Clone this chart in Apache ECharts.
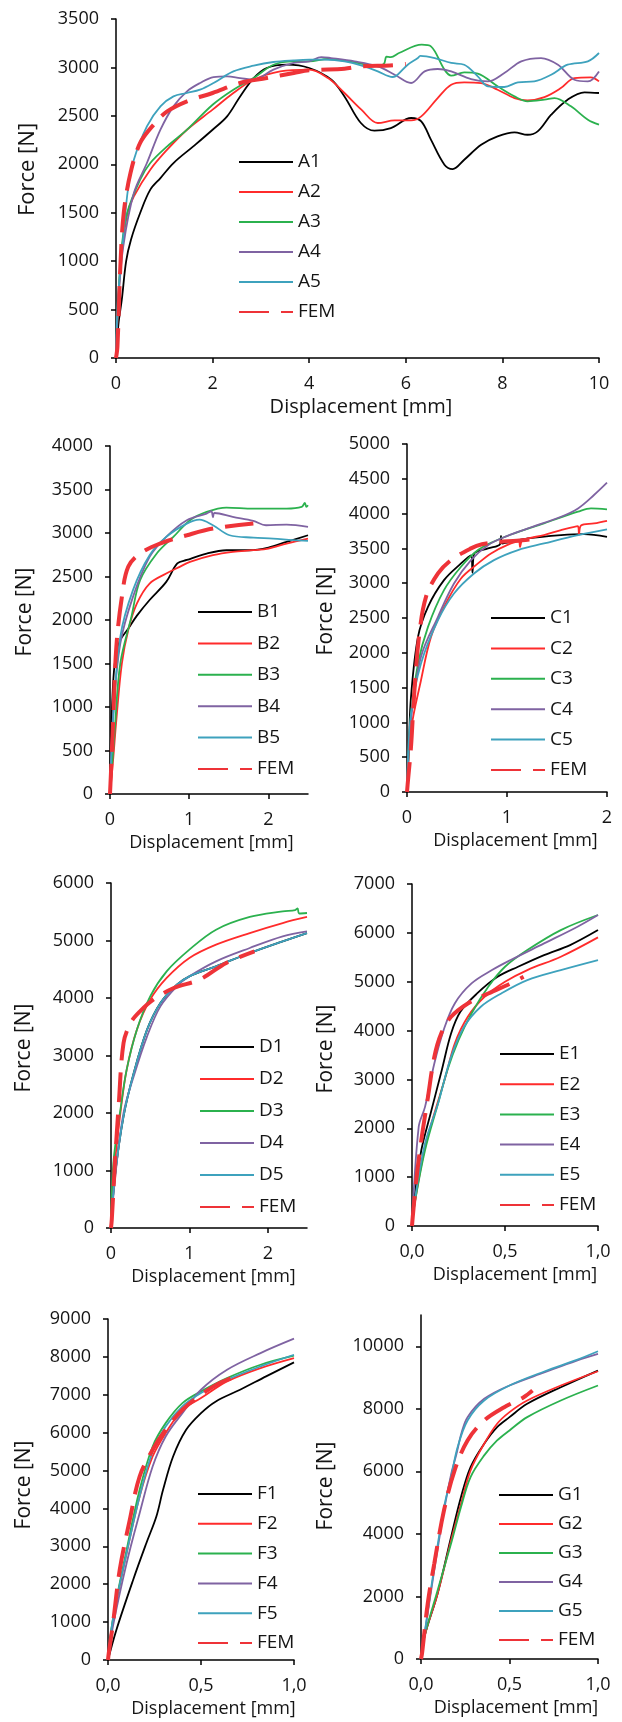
<!DOCTYPE html>
<html>
<head>
<meta charset="utf-8">
<script src="https://cdn.jsdelivr.net/npm/echarts@6/dist/echarts.min.js"></script>
<style>
html,body{margin:0;padding:0;background:#fff;}
#chart{width:622px;height:1722px;}
</style>
</head>
<body>
<div id="chart"></div>
<script>
// ---------- Panel A ----------
const A1 = [[0,0],[0.05,350],[0.12,602],[0.21,1000],[0.31,1222],[0.5,1497],[0.71,1738],[0.92,1858],[1.19,2013],[1.6,2185],[2.0,2357],[2.3,2495],[2.57,2701],[2.85,2890],[3.12,2994],[3.54,3028],[4.0,2994],[4.46,2873],[4.73,2701],[5.07,2426],[5.35,2347],[5.69,2374],[6.11,2478],[6.32,2443],[6.52,2254],[6.8,1996],[6.97,1951],[7.21,2047],[7.56,2202],[7.9,2288],[8.25,2330],[8.52,2305],[8.73,2340],[9.01,2512],[9.35,2667],[9.7,2743],[10,2736]];
const A2 = [[0,0],[0.05,600],[0.12,1100],[0.24,1500],[0.37,1669],[0.71,1944],[1.06,2151],[1.47,2357],[2.0,2564],[2.43,2736],[2.85,2873],[3.4,2959],[4.0,2977],[4.39,2890],[4.73,2736],[5.08,2564],[5.42,2426],[5.77,2453],[6.11,2453],[6.32,2495],[6.66,2684],[6.94,2822],[7.21,2846],[7.56,2839],[7.9,2770],[8.25,2684],[8.52,2660],[8.87,2694],[9.21,2787],[9.49,2890],[9.83,2897],[10,2856]];
const A3 = [[0,0],[0.05,650],[0.12,1150],[0.23,1497],[0.5,1841],[0.71,2013],[1.06,2185],[1.47,2357],[2.0,2615],[2.43,2770],[2.85,2890],[3.26,3028],[3.68,3063],[4.0,3063],[4.39,3087],[4.94,3052],[5.42,3011],[5.55,3040],[5.6,3110],[5.69,3107],[5.86,3149],[6.33,3235],[6.52,3217],[6.8,2977],[6.94,2915],[7.21,2949],[7.49,2935],[7.9,2805],[8.25,2701],[8.52,2650],[8.87,2667],[9.08,2684],[9.42,2598],[9.77,2460],[10,2409]];
const A4 = [[0,0],[0.05,600],[0.15,1150],[0.37,1703],[0.64,2013],[0.92,2357],[1.19,2598],[1.47,2753],[1.74,2839],[2.02,2901],[2.3,2908],[2.57,2890],[2.85,2873],[3.26,2977],[3.68,3046],[4.0,3063],[4.25,3107],[4.45,3097],[4.94,3063],[5.42,3011],[5.77,2925],[6.11,2839],[6.39,2959],[6.66,2984],[6.94,2959],[7.35,2880],[7.7,2856],[8.04,2942],[8.39,3063],[8.8,3097],[9.15,3028],[9.49,2873],[9.77,2856],[10,2959]];
const A5 = [[0,0],[0.04,600],[0.16,1300],[0.25,1750],[0.37,2047],[0.64,2391],[0.92,2598],[1.19,2701],[1.47,2736],[1.74,2770],[2.02,2839],[2.43,2959],[2.85,3018],[3.26,3056],[3.68,3073],[4.0,3080],[4.32,3080],[4.73,3063],[5.14,3011],[5.42,2959],[5.73,2901],[5.83,2925],[6.04,3028],[6.25,3097],[6.3,3120],[6.6,3097],[6.94,3046],[7.21,3028],[7.49,2908],[7.7,2805],[8.04,2798],[8.32,2846],[8.66,2856],[9.01,2925],[9.35,3028],[9.77,3063],[10,3149]];
const FEM_A = [[0,0],[0.03,120],[0.09,946],[0.16,1497],[0.3,1910],[0.5,2220],[0.78,2409],[1.06,2546],[1.47,2650],[2.0,2736],[2.57,2839],[3.12,2890],[3.68,2942],[4.0,2970],[4.73,2987],[5.08,3011],[5.67,3021],[6.0,3035]];

// ---------- Panel B ----------
const B1 = [[0,0],[0.01,600],[0.03,1100],[0.06,1500],[0.12,1750],[0.23,1900],[0.34,2050],[0.5,2230],[0.71,2438],[0.85,2650],[0.97,2690],[1.22,2764],[1.47,2802],[1.76,2802],[2.0,2833],[2.23,2898],[2.5,2974]];
const B2 = [[0,0],[0.04,400],[0.08,850],[0.15,1500],[0.23,1883],[0.34,2190],[0.5,2419],[0.71,2534],[0.88,2611],[1.01,2668],[1.3,2745],[1.55,2783],[1.81,2802],[2.0,2821],[2.23,2878],[2.5,2936]];
const B3 = [[0,0],[0.06,735],[0.13,1500],[0.27,2036],[0.38,2457],[0.59,2764],[0.8,2955],[1.01,3146],[1.22,3242],[1.47,3292],[1.81,3280],[2.23,3280],[2.42,3300],[2.46,3345],[2.48,3300],[2.5,3319]];
const B4 = [[0,0],[0.04,926],[0.13,1730],[0.29,2266],[0.5,2725],[0.71,2955],[0.97,3146],[1.22,3223],[1.28,3250],[1.3,3180],[1.32,3230],[1.55,3185],[1.81,3139],[1.97,3089],[2.23,3097],[2.5,3070]];
const B5 = [[0,0],[0.04,850],[0.13,1807],[0.29,2343],[0.5,2745],[0.71,2955],[0.97,3108],[1.13,3154],[1.3,3089],[1.51,2974],[1.81,2947],[2.06,2936],[2.31,2917],[2.5,2909]];
const FEM_B = [[0,0],[0.01,199],[0.04,850],[0.08,1692],[0.15,2266],[0.23,2611],[0.38,2764],[0.63,2879],[0.97,2974],[1.3,3051],[1.81,3108]];

// ---------- Panel C ----------
const C1 = [[0,0],[0.02,700],[0.04,1366],[0.11,2229],[0.21,2661],[0.37,3044],[0.54,3284],[0.64,3400],[0.655,3150],[0.67,3420],[0.81,3500],[0.93,3560],[0.94,3680],[0.95,3570],[1.21,3643],[1.54,3691],[1.77,3706],[2,3667]];
const C2 = [[0,0],[0.04,887],[0.14,1606],[0.24,2229],[0.37,2661],[0.54,3068],[0.71,3284],[0.84,3428],[1.0,3547],[1.12,3600],[1.13,3520],[1.15,3610],[1.21,3643],[1.37,3691],[1.54,3763],[1.71,3821],[1.72,3700],[1.74,3830],[1.87,3859],[2.0,3897]];
const C3 = [[0,0],[0.04,1127],[0.11,1846],[0.21,2373],[0.37,2900],[0.54,3236],[0.71,3476],[0.87,3600],[1.04,3700],[1.37,3860],[1.71,4027],[1.84,4075],[2.0,4060]];
const C4 = [[0,0],[0.04,1031],[0.14,1942],[0.31,2517],[0.47,2996],[0.64,3332],[0.81,3547],[1.0,3677],[1.21,3787],[1.54,3955],[1.71,4075],[1.87,4267],[2.0,4444]];
const C5 = [[0,0],[0.04,1127],[0.14,1846],[0.31,2469],[0.47,2852],[0.67,3140],[0.87,3332],[1.11,3476],[1.37,3571],[1.71,3691],[2.0,3773]];
const FEM_C = [[0,0],[0.01,168],[0.04,647],[0.07,1366],[0.12,2229],[0.19,2804],[0.31,3140],[0.44,3332],[0.64,3500],[0.75,3560],[0.9,3590],[1.1,3610],[1.3,3640]];

// ---------- Panel D ----------
const D1 = [[0,0],[0.05,900],[0.16,1942],[0.29,2696],[0.46,3449],[0.63,3913],[0.84,4232],[1.0,4377],[1.34,4551],[1.77,4783],[2.19,4986],[2.5,5130]];
const D2 = [[0,0],[0.03,840],[0.12,2000],[0.2,2754],[0.33,3449],[0.5,3971],[0.71,4348],[1.0,4696],[1.34,4928],[1.77,5130],[2.19,5304],[2.5,5409]];
const D3 = [[0,0],[0.03,1130],[0.12,2058],[0.2,2754],[0.33,3449],[0.5,4029],[0.71,4464],[1.0,4841],[1.34,5188],[1.77,5409],[2.19,5507],[2.35,5530],[2.38,5560],[2.4,5470],[2.5,5478]];
const D4 = [[0,0],[0.05,840],[0.16,2000],[0.29,2638],[0.46,3333],[0.63,3855],[0.84,4203],[1.0,4377],[1.34,4638],[1.77,4870],[2.19,5072],[2.5,5159]];
const D5 = [[0,0],[0.05,900],[0.16,1942],[0.29,2696],[0.46,3449],[0.63,3913],[0.84,4232],[1.0,4377],[1.34,4551],[1.77,4783],[2.19,4986],[2.5,5130]];
const FEM_D = [[0,0],[0.01,145],[0.05,1130],[0.1,2174],[0.16,3217],[0.25,3565],[0.37,3768],[0.54,3971],[0.8,4174],[1.13,4319],[1.47,4609],[1.83,4812]];

// ---------- Panel E ----------
const E1 = [[0,0],[0.014,594],[0.05,1550],[0.1,2301],[0.16,3189],[0.21,3940],[0.26,4384],[0.35,4760],[0.46,5101],[0.57,5306],[0.71,5545],[0.85,5750],[1.0,6057]];
const E2 = [[0,0],[0.014,458],[0.07,1618],[0.12,2301],[0.18,3053],[0.23,3736],[0.3,4282],[0.39,4692],[0.5,4999],[0.62,5238],[0.8,5511],[1.0,5907]];
const E3 = [[0,0],[0.014,450],[0.07,1550],[0.14,2506],[0.19,3189],[0.25,3804],[0.32,4350],[0.41,4897],[0.5,5306],[0.62,5648],[0.8,6057],[1.0,6365]];
const E4 = [[0,0],[0.036,2028],[0.07,2438],[0.12,3326],[0.17,4009],[0.23,4555],[0.32,4965],[0.43,5238],[0.53,5443],[0.71,5784],[0.89,6126],[1.0,6365]];
const E5 = [[0,0],[0.014,500],[0.07,1687],[0.14,2506],[0.21,3462],[0.28,4077],[0.37,4487],[0.48,4760],[0.62,5033],[0.8,5238],[1.0,5443]];
const FEM_E = [[0,0],[0.004,184],[0.023,936],[0.05,1755],[0.086,2643],[0.12,3462],[0.157,3940],[0.21,4282],[0.3,4555],[0.41,4760],[0.53,4965],[0.6,5101]];

// ---------- Panel F ----------
const F1 = [[0,0],[0.045,793],[0.135,2113],[0.206,3082],[0.26,3787],[0.296,4491],[0.35,5372],[0.42,6076],[0.5,6516],[0.58,6825],[0.71,7133],[0.85,7485],[1.0,7855]];
const F2 = [[0,0],[0.027,1057],[0.1,2818],[0.17,4315],[0.24,5372],[0.31,5988],[0.4,6604],[0.5,6913],[0.64,7353],[0.82,7705],[1.0,7969]];
const F3 = [[0,0],[0.027,1100],[0.1,2906],[0.17,4491],[0.24,5636],[0.31,6252],[0.4,6780],[0.5,7089],[0.64,7441],[0.82,7793],[1.0,8031]];
const F4 = [[0,0],[0.027,900],[0.1,2554],[0.17,3875],[0.24,5107],[0.31,5900],[0.4,6516],[0.5,7133],[0.64,7661],[0.82,8101],[1.0,8480]];
const F5 = [[0,0],[0.027,1100],[0.1,2818],[0.17,4315],[0.24,5504],[0.31,6164],[0.4,6692],[0.5,7045],[0.64,7397],[0.82,7749],[1.0,8057]];
const FEM_F = [[0,0],[0.004,176],[0.027,969],[0.063,2378],[0.117,3698],[0.17,4843],[0.24,5548],[0.31,6076],[0.4,6604],[0.5,7001],[0.6,7309],[0.71,7529]];

// ---------- Panel G ----------
const G1 = [[0,0],[0.019,713],[0.094,2096],[0.17,3904],[0.226,5181],[0.28,6138],[0.357,6883],[0.43,7415],[0.5,7734],[0.6,8160],[0.79,8691],[1.0,9223]];
const G2 = [[0,0],[0.019,700],[0.094,2096],[0.17,3798],[0.226,4968],[0.28,6032],[0.357,6883],[0.43,7521],[0.5,7894],[0.6,8266],[0.79,8745],[1.0,9202]];
const G3 = [[0,0],[0.019,700],[0.094,2202],[0.17,3691],[0.226,4862],[0.28,5819],[0.357,6511],[0.43,6989],[0.5,7309],[0.6,7734],[0.79,8266],[1.0,8745]];
const G4 = [[0,0],[0.02,780],[0.075,2840],[0.13,4750],[0.17,5900],[0.2,6550],[0.23,7250],[0.263,7734],[0.357,8319],[0.5,8745],[0.7,9170],[0.88,9543],[1.0,9755]];
const G5 = [[0,0],[0.02,800],[0.075,2947],[0.13,4850],[0.17,5819],[0.207,6777],[0.263,7628],[0.357,8266],[0.5,8745],[0.7,9202],[0.88,9564],[1.0,9840]];
const FEM_G = [[0,0],[0.006,181],[0.038,1777],[0.075,3053],[0.13,4755],[0.19,6032],[0.263,6989],[0.357,7628],[0.47,8053],[0.58,8372],[0.63,8585]];

// axis ranges [min, max, interval]
const xRangeA = [0, 10, 2],   yRangeA = [0, 3500, 500];
const xRangeB = [0, 2.5, 1],  yRangeB = [0, 4000, 500];
const xRangeC = [0, 2, 1],    yRangeC = [0, 5000, 500];
const xRangeD = [0, 2.5, 1],  yRangeD = [0, 6000, 1000];
const xRangeE = [0, 1, 0.5],  yRangeE = [0, 7000, 1000];
const xRangeF = [0, 1, 0.5],  yRangeF = [0, 9000, 1000];
const xRangeG = [0, 1, 0.5],  yRangeG = [0, 11000, 2000];

const X_TITLE = 'Displacement [mm]';
const Y_TITLE = 'Force [N]';
const SERIES_COLORS = ['#000000', '#ff2b2b', '#2bb14e', '#7f63a2', '#3ea2bd'];
const FEM_COLOR = '#ee3338';
const FONT = '"Open Sans", Lato, sans-serif';
const TEXT = '#151515';

const panels = [
  {p:'A', data:[A1,A2,A3,A4,A5], fem:FEM_A, xr:xRangeA, yr:yRangeA, comma:false,
   grid:{left:116, top:19, width:483, height:339}, yGap:77, yUp:19, yFont:22, xShift:3.5, xFont:20,
   leg:{left:233, c1:157, sp:30}},
  {p:'B', data:[B1,B2,B3,B4,B5], fem:FEM_B, xr:xRangeB, yr:yRangeB, comma:false,
   grid:{left:110, top:446, width:198, height:348}, yGap:74, yUp:8, yFont:21, xShift:2.5, xFont:18,
   leg:{left:192, c1:607, sp:31.4}},
  {p:'C', data:[C1,C2,C3,C4,C5], fem:FEM_C, xr:xRangeC, yr:yRangeC, comma:false,
   grid:{left:407, top:444, width:200, height:348}, yGap:70, yUp:7, yFont:21, xShift:8.5, xFont:18,
   leg:{left:485, c1:613, sp:30.4}},
  {p:'D', data:[D1,D2,D3,D4,D5], fem:FEM_D, xr:xRangeD, yr:yRangeD, comma:false,
   grid:{left:111, top:883, width:196, height:345}, yGap:76, yUp:7.5, yFont:21, xShift:4.5, xFont:18,
   leg:{left:194, c1:1042, sp:32}},
  {p:'E', data:[E1,E2,E3,E4,E5], fem:FEM_E, xr:xRangeE, yr:yRangeE, comma:true,
   grid:{left:412, top:884, width:186, height:342}, yGap:75, yUp:6, yFont:21, xShift:10, xFont:18,
   leg:{left:494, c1:1049, sp:30.2}},
  {p:'F', data:[F1,F2,F3,F4,F5], fem:FEM_F, xr:xRangeF, yr:yRangeF, comma:true,
   grid:{left:108, top:1319, width:186, height:341}, yGap:73, yUp:4.5, yFont:21, xShift:12.5, xFont:18,
   leg:{left:192, c1:1489, sp:29.8}},
  {p:'G', data:[G1,G2,G3,G4,G5], fem:FEM_G, xr:xRangeG, yr:yRangeG, comma:true,
   grid:{left:421, top:1315, width:177, height:344}, yGap:84, yUp:1, yFont:21, xShift:6.5, xFont:18,
   leg:{left:493, c1:1490, sp:29}}
];

const grids = [], xAxes = [], yAxes = [], series = [], legends = [];
const axisLineStyle = {color:'#000', width:1.5};

panels.forEach((pn, i) => {
  grids.push(Object.assign({outerBoundsMode:'none', containLabel:false}, pn.grid));
  const xMaxIsTick = Math.abs(pn.xr[1] / pn.xr[2] - Math.round(pn.xr[1] / pn.xr[2])) < 1e-9;
  const yMaxIsTick = Math.abs(pn.yr[1] / pn.yr[2] - Math.round(pn.yr[1] / pn.yr[2])) < 1e-9;
  xAxes.push({
    gridIndex:i, type:'value', min:pn.xr[0], max:pn.xr[1], interval:pn.xr[2],
    name:X_TITLE, nameLocation:'middle', nameGap:49 - pn.xFont / 2,
    nameTextStyle:{fontFamily:FONT, fontSize:pn.xFont, color:TEXT, padding:[0,0,0,pn.xShift*2]},
    axisLine:{show:true, onZero:false, lineStyle:axisLineStyle},
    axisTick:{show:true, inside:false, length:5, lineStyle:axisLineStyle},
    splitLine:{show:false},
    axisLabel:{fontFamily:FONT, fontSize:18, color:TEXT, margin:17, showMaxLabel:xMaxIsTick,
      formatter: v => pn.comma ? v.toFixed(1).replace('.', ',') : String(v)}
  });
  yAxes.push({
    gridIndex:i, type:'value', min:pn.yr[0], max:pn.yr[1], interval:pn.yr[2],
    name:Y_TITLE, nameLocation:'middle', nameGap:pn.yGap,
    nameTextStyle:{fontFamily:FONT, fontSize:pn.yFont, color:TEXT, padding:[0,0,0,pn.yUp*2]},
    axisLine:{show:true, lineStyle:axisLineStyle},
    axisTick:{show:true, inside:false, length:5, lineStyle:axisLineStyle},
    splitLine:{show:false},
    axisLabel:{fontFamily:FONT, fontSize:18, color:TEXT, margin:17, showMaxLabel:yMaxIsTick,
      formatter: v => String(v)}
  });
  const names = [];
  pn.data.forEach((d, k) => {
    const nm = pn.p + (k + 1);
    names.push(nm);
    series.push({
      name:nm, type:'line', xAxisIndex:i, yAxisIndex:i, data:d,
      symbol:'none', showSymbol:false, smooth:0.35,
      lineStyle:{color:SERIES_COLORS[k], width:1.8}, itemStyle:{color:SERIES_COLORS[k], opacity:0},
      z:2
    });
  });
  series.push({
    name:'FEM', type:'line', xAxisIndex:i, yAxisIndex:i, data:pn.fem,
    symbol:'none', showSymbol:false, smooth:0.35,
    lineStyle:{color:FEM_COLOR, width:4, type:[30,12], cap:'butt'}, itemStyle:{color:FEM_COLOR, opacity:0},
    z:3
  });
  names.push('FEM');
  legends.push({
    data:names, orient:'vertical', left:pn.leg.left, top:pn.leg.c1 - 10,
    itemWidth:54, itemHeight:20, itemGap:pn.leg.sp - 20, selectedMode:false,
    itemStyle:{opacity:0},
    textStyle:{fontFamily:FONT, fontSize:19, color:TEXT, lineHeight:20}
  });
});

const chart = echarts.init(document.getElementById('chart'), null, {renderer:'canvas', width:622, height:1722});
chart.setOption({
  animation:false,
  backgroundColor:'#ffffff',
  grid:grids, xAxis:xAxes, yAxis:yAxes, series:series, legend:legends
});
</script>
</body>
</html>
